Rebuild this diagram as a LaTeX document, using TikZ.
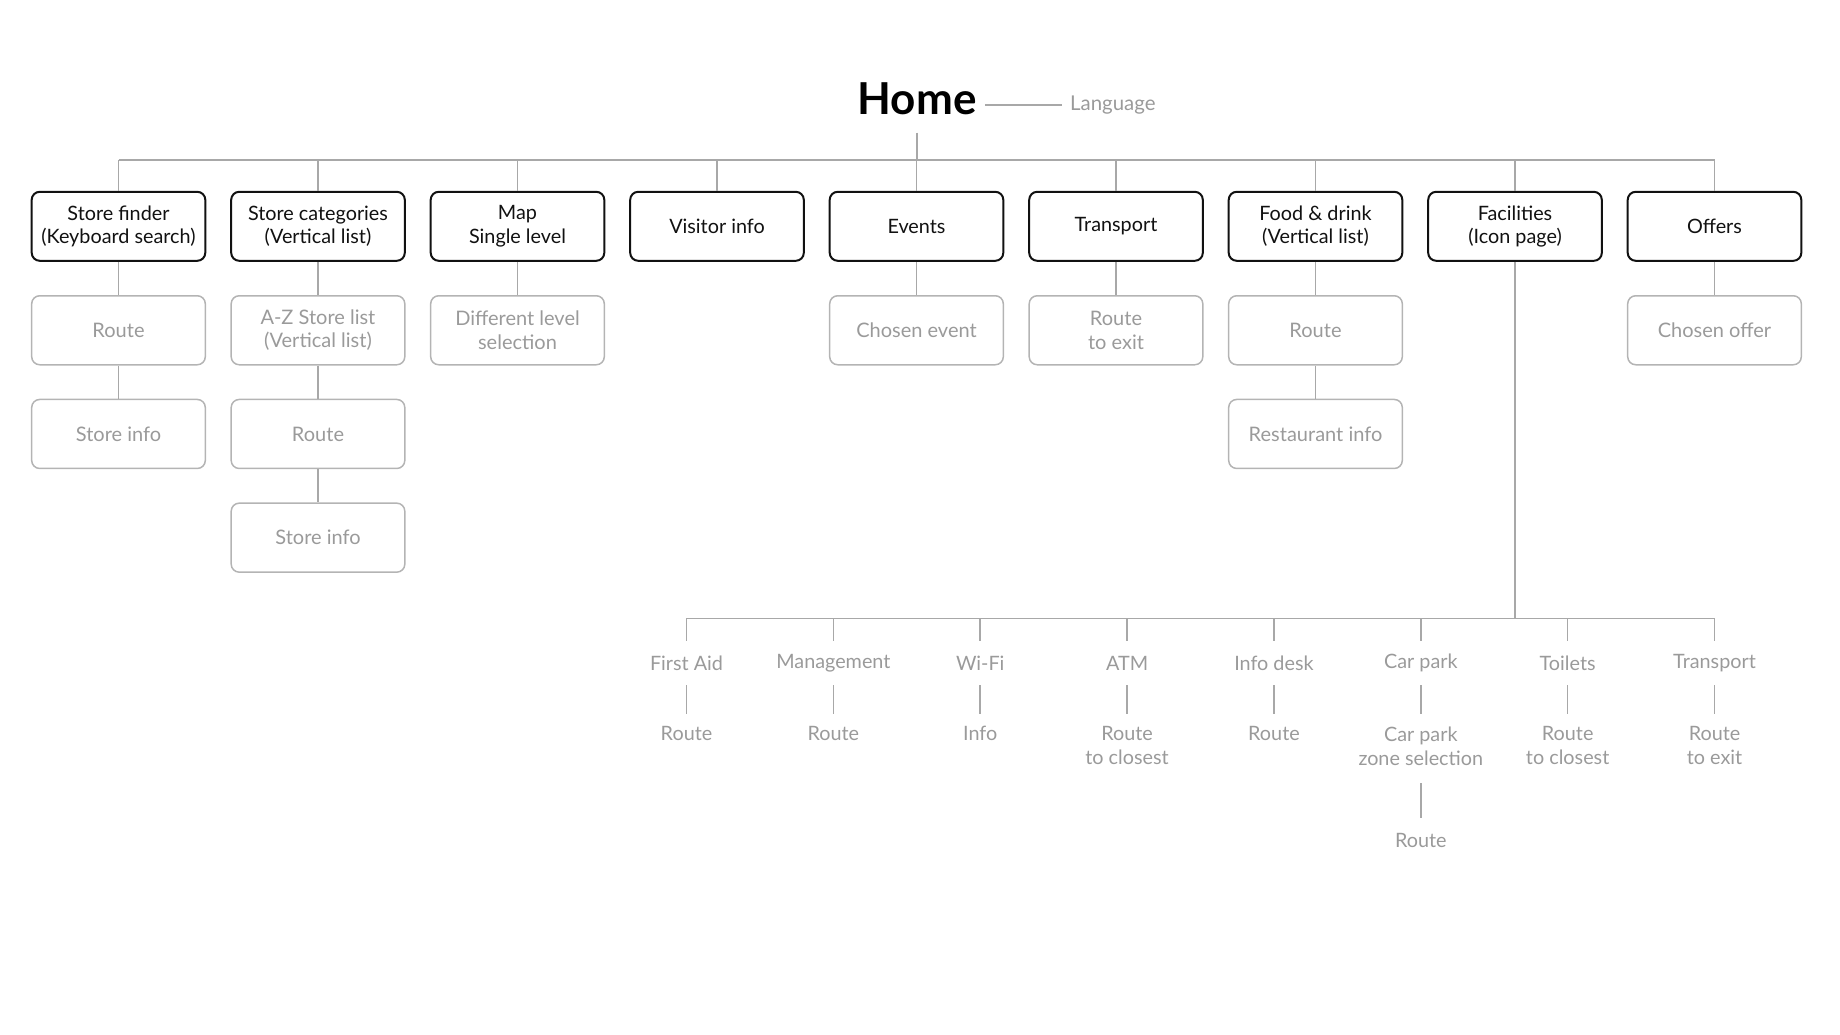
\documentclass[tikz,border=0pt]{standalone}
\usepackage{fontspec}
\setmainfont{Lato}
\usepackage{tikz}
\usetikzlibrary{positioning}
\definecolor{ink}{HTML}{111111}
\definecolor{linegray}{HTML}{A8A8A8}
\definecolor{boxgray}{HTML}{B4B4B4}
\definecolor{textgray}{HTML}{9A9A9A}
\tikzset{
  conn/.style={draw=linegray, line width=0.75pt},
  topbox/.style={draw=ink, line width=1pt, rounded corners=4pt, minimum width=86.8pt,
    minimum height=34.5pt, align=center, text=ink, inner sep=2pt,
    font=\fontsize{9.9}{11.75}\selectfont},
  subbox/.style={topbox, draw=boxgray, line width=0.75pt, text=textgray,
    font=\fontsize{10}{11.75}\selectfont},
  leaf/.style={text=textgray, align=center, inner sep=0pt, minimum height=19pt,
    font=\fontsize{9.9}{12}\selectfont},
  leaftwo/.style={leaf, minimum height=31pt},
  head/.style={leaf, minimum height=22pt},
  title/.style={text=black, inner sep=4pt, font=\fontsize{22}{26}\selectfont\bfseries},
  langlab/.style={text=textgray, inner sep=4pt, font=\fontsize{10.2}{12}\selectfont},
}
\begin{document}
\begin{tikzpicture}[x=0.5pt, y=-0.5pt]
  \useasboundingbox (0,0) rectangle (1840,1034);
  % home and language
  \node[title, anchor=base] (home) at (917,114.5) {Home};
  \node[langlab, right=38.5pt of home, yshift=-3pt] (lang) {Language};
  \draw[conn] (home.east |- lang.west) -- (lang.west);
  % top row
  \foreach \n/\lbl [count=\i from 0] in {sfind/{Store finder\\(Keyboard search)},
      scat/{Store categories\\(Vertical list)}, map/{Map\\Single level},
      visitor/{Visitor info}, events/Events, transp/Transport,
      food/{Food \& drink\\(Vertical list)}, facil/{Facilities\\(Icon page)}, offers/Offers}
    \node[topbox] (\n) at (118.5+199.5*\i,226.3) {\lbl};
  \coordinate (busL) at (118.5,160);
  \coordinate (busR) at (1714.5,160);
  \draw[conn] (busL) -- (busR);
  \draw[conn] ([yshift=-9pt]home.base) -- (home.base |- busL);
  \foreach \n in {sfind,scat,map,visitor,events,transp,food,facil,offers}
    \draw[conn] (\n.north) -- (\n.north |- busL);
  % second and deeper levels
  \node[subbox, below=16.6pt of sfind] (sfroute) {Route};
  \node[subbox, below=16.6pt of sfroute] (sfinfo) {Store info};
  \node[subbox, below=16.6pt of scat] (azlist) {A-Z Store list\\(Vertical list)};
  \node[subbox, below=16.6pt of azlist] (scroute) {Route};
  \node[subbox, below=16.6pt of scroute] (scinfo) {Store info};
  \node[subbox, below=16.6pt of map] (level) {Different level\\selection};
  \node[subbox, below=16.6pt of events] (chevent) {Chosen event};
  \node[subbox, below=16.6pt of transp] (trexit) {Route\\to exit};
  \node[subbox, below=16.6pt of food] (fdroute) {Route};
  \node[subbox, below=16.6pt of fdroute] (fdinfo) {Restaurant info};
  \node[subbox, below=16.6pt of offers] (choffer) {Chosen offer};
  \foreach \a/\b in {sfind/sfroute, sfroute/sfinfo, scat/azlist, azlist/scroute,
      scroute/scinfo, map/level, events/chevent, transp/trexit, food/fdroute,
      fdroute/fdinfo, offers/choffer}
    \draw[conn] (\a) -- (\b);
  % facilities tree
  \coordinate (fbusL) at (686.5,618.3);
  \coordinate (fbusR) at (1714.5,618.3);
  \draw[conn] (fbusL) -- (fbusR);
  \draw[conn] (facil) -- (facil |- fbusL);
  \foreach \n/\lbl [count=\i from 0] in {firstaid/First Aid, manage/Management, wifi/Wi-Fi,
      atm/ATM, infodesk/Info desk, carpark/Car park, toilets/Toilets, ftransp/Transport}
  {
    \node[head] (\n) at (686.5+146.86*\i,663) {\lbl};
    \draw[conn] (\n.north) -- (\n.north |- fbusL);
  }
  \node[leaf, below=14.5pt of firstaid] (faroute) {Route};
  \node[leaf, below=14.5pt of manage] (mgroute) {Route};
  \node[leaf, below=14.5pt of wifi] (wifiinfo) {Info};
  \node[leaftwo, below=14.5pt of atm] (atmroute) {Route\\to closest};
  \node[leaf, below=14.5pt of infodesk] (idroute) {Route};
  \node[leaftwo, below=14.5pt of carpark] (zone) {Car park\\zone selection};
  \node[leaftwo, below=14.5pt of toilets] (wcroute) {Route\\to closest};
  \node[leaftwo, below=14.5pt of ftransp] (ftexit) {Route\\to exit};
  \node[leaf, below=22pt of zone] (zoneroute) {Route};
  \foreach \a/\b in {firstaid/faroute, manage/mgroute, wifi/wifiinfo, atm/atmroute,
      infodesk/idroute, carpark/zone, toilets/wcroute, ftransp/ftexit}
    \draw[conn] (\a) -- (\b);
  \draw[conn, shorten <=3pt, shorten >=1.5pt] (zone) -- (zoneroute);
\end{tikzpicture}
\end{document}
